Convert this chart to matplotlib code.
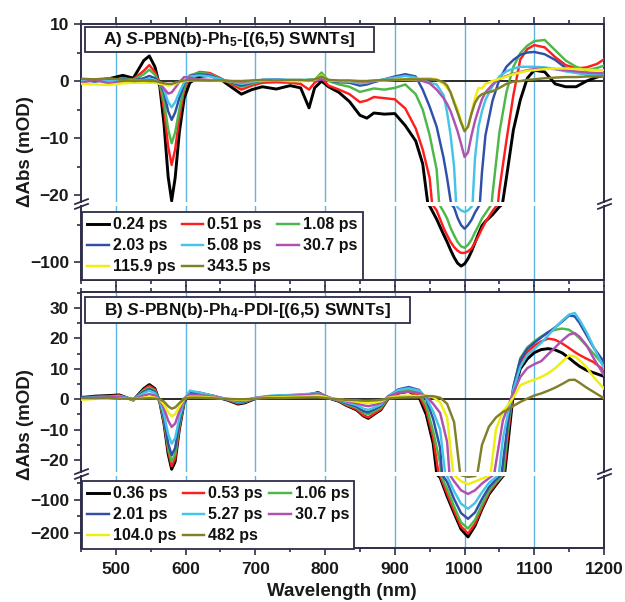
import matplotlib
matplotlib.use("Agg")
import matplotlib.pyplot as plt
from matplotlib.ticker import MultipleLocator, FixedLocator
from matplotlib.patches import Rectangle
from matplotlib.lines import Line2D

plt.rcParams['font.family'] = ['Liberation Sans', 'DejaVu Sans']
plt.rcParams['font.weight'] = 'bold'
plt.rcParams['axes.unicode_minus'] = True
plt.rcParams['mathtext.fontset'] = 'custom'
plt.rcParams['mathtext.rm'] = 'Liberation Sans:bold'
plt.rcParams['mathtext.bf'] = 'Liberation Sans:bold'
plt.rcParams['mathtext.it'] = 'Liberation Sans:italic:bold'
plt.rcParams['mathtext.default'] = 'bf'

# ---------------- data: panel A ----------------
WL_A = [450, 470, 490, 510, 525, 540, 548, 556, 563, 569, 575, 580, 585, 591, 598, 606,
        620, 635, 650, 665, 680, 695,
        710, 730, 750, 765, 777, 785, 795,
        805, 820, 835, 850, 860, 870, 885, 900,
        915, 930, 940, 950, 960,
        970, 975, 980, 985, 990, 995, 1000, 1005, 1010, 1015, 1020, 1025, 1030,
        1040, 1050, 1060, 1070, 1080, 1090, 1100,
        1115, 1130, 1145, 1160, 1175, 1190, 1200]

LABELS_A = ["0.24 ps", "0.51 ps", "1.08 ps", "2.03 ps", "5.08 ps", "30.7 ps", "115.9 ps", "343.5 ps"]

A_024 = [0.3, 0.1, 0.4, 1.0, 0.5, 3.6, 4.4, 2.5, -1.0, -7.5, -16.8, -21.0, -17.0, -9.0, -3.0, -0.3,
         0.8, 1.0, 0.3, -1.0, -2.3, -1.5,
         -1.0, -1.4, -0.8, -1.2, -4.7, -1.2, 0.0,
         -1.0, -2.0, -3.6, -6.0, -6.5, -5.6, -5.8, -5.7,
         -7.8, -10.5, -14.5, -24, -42,
         -63, -73, -84, -94, -102, -106, -103, -96, -86, -74, -62, -51, -45,
         -36, -25, -17, -8.6, -3.3, 0.5, 1.9,
         1.6, -0.5, -1.0, -1.0, 0.0, 0.7, 1.0]
A_051 = [0.2, 0.2, 0.1, 0.5, 0.3, 1.8, 2.8, 1.6, -0.6, -5.0, -11.5, -14.7, -12.0, -6.5, -1.5, 0.8,
         1.6, 1.4, 0.5, -0.5, -1.5, -0.8,
         -0.3, -0.2, -0.3, -0.5, -1.5, -0.3, 0.5,
         -0.8, -1.5, -2.3, -3.7, -3.4, -2.8, -3.0, -3.2,
         -4.8, -8.3, -12.0, -17.0, -30,
         -54, -64, -73, -80, -85, -88, -88, -86, -82, -74, -65, -55, -46,
         -31, -19, -10.5, -2.5, 3.8, 5.6, 6.3,
         5.9, 4.2, 2.8, 2.2, 2.4, 3.0, 3.8]
A_108 = [0.3, 0.1, 0.2, 0.4, 0.2, 1.2, 2.0, 1.1, -0.5, -3.5, -8.5, -10.9, -9.0, -5.0, -1.0, 1.0,
         1.5, 1.2, 0.4, -0.3, -1.0, -0.5,
         0.0, 0.1, 0.0, 0.0, 0.3, 0.2, 1.5,
         0.0, -0.6, -1.0, -1.9, -1.6, -1.3, -1.5, -1.2,
         -0.6, -2.3, -5.0, -9.5, -15.5,
         -32, -41, -54, -64, -73, -79, -81, -77, -70, -60, -51, -41, -34,
         -20, -9, -2, 2.5, 4.9, 6.2, 7.0,
         7.2, 5.4, 3.6, 2.5, 1.9, 2.3, 2.7]
A_203 = [0.2, -0.1, 0.2, 0.3, 0.1, 0.5, 0.9, 0.5, -0.3, -2.0, -5.3, -6.8, -5.5, -3.0, -0.5, 0.9,
         1.2, 1.0, 0.3, -0.2, -0.8, -0.3,
         0.2, 0.3, 0.1, 0.1, 0.1, 0.2, 0.6,
         0.1, -0.2, -0.3, -0.8, -0.6, -0.2, 0.3, 0.8,
         1.2, 0.8, -1.5, -4.5, -8.0,
         -13.5, -17.0, -21.0, -26, -40, -50, -55, -50, -43, -33, -25, -16, -9.5,
         -3.5, 0.3, 2.5, 3.7, 4.6, 5.0, 5.1,
         4.7, 3.7, 2.3, 1.5, 1.2, 1.2, 1.2]
A_508 = [0.1, 0.2, 0.0, 0.2, 0.1, 0.2, 0.4, 0.2, -0.3, -1.5, -3.7, -4.6, -3.7, -2.0, -0.2, 0.8,
         1.0, 0.8, 0.3, -0.1, -0.5, -0.2,
         0.2, 0.3, 0.2, 0.2, 0.2, 0.2, 0.5,
         0.2, 0.0, -0.1, -0.4, -0.3, 0.0, 0.3, 0.6,
         0.9, 0.6, 0.2, -0.3, -0.6,
         -2.5, -5.5, -9.5, -15.0, -26, -30, -32, -30, -25, -13.5, -8.0, -5.3, -3.3,
         -0.9, 0.8, 1.7, 2.2, 2.5, 2.5, 2.5,
         2.4, 2.1, 1.7, 1.4, 1.2, 1.0, 1.0]
A_307 = [-0.3, 0.2, -0.4, -0.2, 0.0, 0.0, 0.2, 0.0, -0.5, -1.3, -2.2, -2.0, -1.2, -0.2, 0.7, 0.6,
         0.3, 0.2, 0.1, 0.0, -0.2, 0.0,
         0.1, 0.2, 0.1, 0.1, 0.1, 0.1, 0.3,
         0.1, 0.0, 0.0, -0.1, -0.1, 0.0, 0.1, 0.2,
         0.2, 0.1, 0.0, -0.4, -1.5,
         -3.0, -4.0, -5.3, -7.0, -8.8, -11.0, -13.3, -12.5, -9.5, -7.0, -5.0, -3.2, -2.0,
         -0.6, 0.4, 0.9, 1.3, 1.6, 1.9, 2.1,
         2.2, 2.1, 1.9, 1.7, 1.5, 1.4, 1.4]
A_1159 = [-0.5, -0.6, -0.7, -0.4, -0.3, -0.3, -0.3, -0.3, -0.5, -0.6, -0.8, -0.7, -0.5, -0.2, 0.0, 0.1,
          0.1, 0.1, 0.0, 0.0, 0.0, 0.0,
          0.1, 0.1, 0.0, 0.0, 0.0, 0.2, 1.0,
          0.1, 0.0, 0.0, 0.0, 0.0, 0.1, 0.1, 0.2,
          0.3, 0.3, 0.5, 0.5, 0.3,
          -0.5, -1.2, -2.0, -3.5, -5.0, -7.0, -8.5, -8.0, -5.5, -3.0, -1.2, -1.3, -0.5,
          0.0, 0.4, 0.8, 1.2, 1.5, 1.8, 1.9,
          2.1, 2.2, 2.2, 2.1, 2.0, 1.9, 1.9]
A_3435 = [0.4, 0.3, 0.5, 0.2, 0.0, 0.1, 0.0, 0.0, -0.2, -0.4, -0.5, -0.5, -0.3, -0.1, 0.1, 0.2,
          0.2, 0.1, 0.1, 0.0, 0.0, 0.1,
          0.2, 0.1, 0.2, 0.2, 0.1, 0.3, 0.8,
          0.2, 0.1, 0.1, 0.0, 0.0, 0.1, 0.2, 0.2,
          0.3, 0.3, 0.3, 0.3, 0.2,
          -0.2, -0.8, -2.0, -3.8, -5.5, -7.3, -8.8, -8.0, -5.7, -3.8, -2.8, -2.3, -2.1,
          -1.8, -1.2, -0.5, -0.1, 0.0, 0.2, 0.3,
          0.5, 0.6, 0.7, 0.7, 0.8, 0.8, 0.8]

# ---------------- data: panel B ----------------
WL_B = [450, 470, 490, 505, 525, 540, 548, 556, 563, 569, 575, 580, 585, 591, 598, 606,
        620, 640, 660, 675, 685, 700,
        720, 740, 760, 780, 790, 800,
        810, 820, 830, 845, 855, 862, 870, 880, 890,
        905, 920, 935, 945, 955, 965, 975, 985, 995, 1005, 1015, 1025, 1035, 1045, 1055,
        1062, 1070, 1080, 1090, 1100, 1110, 1120, 1130, 1140, 1150, 1158, 1165, 1175, 1185, 1200]

LABELS_B = ["0.36 ps", "0.53 ps", "1.06 ps", "2.01 ps", "5.27 ps", "30.7 ps", "104.0 ps", "482 ps"]

B_036 = [0.5, 1.0, 1.2, 1.4, -0.3, 3.5, 4.8, 3.5, -1.0, -8.0, -18.0, -23.0, -20.5, -10.0, -1.0, 2.3,
         2.0, 1.0, -0.3, -1.6, -1.2, 0.2,
         0.8, 1.0, 1.2, 1.6, 2.2, 1.0,
         0.0, -0.7, -2.0, -3.5, -5.5, -6.3, -5.0, -3.5, 0.0,
         2.0, 2.6, 0.5, -5.0, -14.5, -34, -90, -140, -188, -211, -178, -128, -84, -56, -30,
         -15, 2.0, 10.0, 13.2, 15.3, 16.3, 16.6, 16.2, 15.2, 13.5, 12.0, 10.8, 9.5, 8.7, 7.5]
B_053 = [0.8, 0.6, 1.0, 1.2, -0.2, 3.2, 4.4, 3.2, -0.9, -7.5, -17.0, -22.0, -19.5, -9.5, -0.8, 2.4,
         2.1, 1.1, -0.2, -1.4, -1.0, 0.3,
         0.9, 1.1, 1.3, 1.7, 2.1, 1.0,
         0.0, -0.6, -1.9, -3.3, -5.3, -6.0, -4.8, -3.3, 0.1,
         2.0, 2.5, 1.2, -3.5, -12.5, -28, -82, -133, -180, -201, -172, -124, -80, -52, -28,
         -12, 3.0, 12.0, 15.5, 17.5, 19.0, 19.9, 19.5, 18.3, 16.8, 15.5, 14.5, 13.3, 12.2, 9.5]
B_106 = [0.5, 0.8, 0.9, 1.1, -0.2, 2.8, 3.8, 2.8, -0.8, -7.0, -16.0, -20.5, -18.0, -8.8, -0.6, 2.3,
         2.0, 1.0, -0.1, -1.2, -0.9, 0.3,
         0.9, 1.1, 1.3, 1.6, 2.0, 1.0,
         0.1, -0.5, -1.6, -2.8, -4.5, -5.0, -4.0, -2.8, 0.3,
         2.5, 3.2, 2.0, -2.0, -10.5, -21, -68, -120, -168, -186, -160, -115, -74, -48, -25,
         -10, 4.0, 13.5, 17.0, 19.0, 20.6, 22.0, 22.8, 23.2, 22.8, 21.5, 20.0, 17.5, 15.0, 11.0]
B_201 = [0.6, 0.7, 1.0, 1.0, -0.1, 2.4, 3.3, 2.4, -0.6, -6.2, -14.5, -18.4, -16.0, -7.8, -0.4, 2.2,
         2.0, 1.0, -0.1, -1.0, -0.8, 0.4,
         1.0, 1.2, 1.4, 1.7, 2.1, 1.1,
         0.2, -0.4, -1.3, -2.4, -3.9, -4.3, -3.4, -2.2, 0.8,
         3.2, 4.0, 3.0, 0.0, -6.5, -16, -47, -98, -140, -157, -138, -98, -63, -40, -21,
         -8, 4.0, 13.0, 16.5, 18.5, 20.3, 22.0, 23.6, 25.5, 27.5, 27.2, 25.0, 21.0, 17.0, 12.2]
B_527 = [0.3, 0.6, 0.8, 1.0, 0.0, 2.0, 2.8, 2.0, -0.5, -5.0, -11.5, -14.6, -12.8, -6.2, 0.0, 2.8,
         2.2, 1.1, 0.0, -0.8, -0.6, 0.5,
         1.1, 1.3, 1.5, 1.8, 2.0, 1.1,
         0.2, -0.3, -1.0, -1.9, -3.1, -3.5, -2.8, -1.8, 1.0,
         3.0, 3.6, 2.8, 0.5, -4.0, -10, -30, -75, -112, -127, -110, -78, -50, -33, -13,
         -5, 3.0, 10.6, 14.5, 16.5, 18.5, 21.0, 23.5, 25.8, 27.8, 28.3, 26.0, 22.0, 17.2, 10.1]
B_307 = [0.2, 0.5, 0.6, 0.7, 0.0, 1.2, 1.7, 1.2, -0.2, -3.0, -7.0, -9.1, -8.0, -4.0, 0.3, 1.5,
         1.3, 0.8, 0.1, -0.5, -0.4, 0.4,
         0.9, 1.0, 1.2, 1.5, 1.8, 1.0,
         0.2, -0.2, -0.7, -1.3, -2.0, -2.3, -1.9, -1.2, 0.8,
         2.2, 2.5, 2.0, 1.0, -1.5, -4.5, -14, -45, -72, -83, -72, -52, -36, -21, -7,
         -2.5, 2.0, 7.3, 10.2, 11.5, 12.5, 14.8, 17.0, 19.3, 21.2, 21.7, 20.5, 17.7, 13.5, 7.9]
B_1040 = [-0.2, 0.1, 0.2, 0.3, 0.0, 0.5, 0.8, 0.5, -0.1, -1.8, -4.3, -5.6, -4.9, -2.5, 0.2, 0.8,
          0.8, 0.5, 0.1, -0.2, -0.2, 0.3,
          0.6, 0.7, 0.8, 1.0, 1.2, 0.7,
          0.2, 0.0, -0.4, -0.8, -1.2, -1.3, -1.1, -0.7, 0.4,
          1.0, 1.2, 1.0, 1.2, 0.6, -1.0, -6.0, -27, -45, -54, -46, -37, -29, -10, -4,
          -2.0, 0.5, 4.6, 5.6, 6.4, 7.3, 8.5, 10.2, 12.3, 14.4, 14.0, 12.8, 10.5, 7.3, 3.5]
B_482 = [0.4, 0.3, 0.5, 0.2, 0.1, 0.2, 0.3, 0.2, 0.0, -0.8, -2.3, -3.1, -2.7, -1.3, 0.2, 0.5,
         0.5, 0.3, 0.1, 0.0, 0.0, 0.2,
         0.4, 0.4, 0.5, 0.6, 0.6, 0.4,
         0.1, 0.0, -0.2, -0.3, -0.5, -0.5, -0.4, -0.2, 0.2,
         0.5, 0.6, 0.6, 1.0, 1.0, 0.5, -1.5, -7.5, -27, -32, -29.5, -15, -9, -6, -4.2,
         -3.5, -2.2, -0.9, 0.2, 1.2, 1.9, 2.8, 3.8, 5.0, 6.3, 6.4, 5.4, 3.8, 2.4, 0.3]

COLORS = ['#000000', '#ff1e1e', '#4cb848', '#2f4fa8', '#45c3e8', '#b050b0', '#eeee10', '#80802a']
VLINES = [500, 600, 700, 800, 900, 1000, 1100]

SPINE = '#2d2d48'
VCOL = '#5db3e2'

W, H = 625, 602
fig = plt.figure(figsize=(W / 100, H / 100), dpi=100)


def ax_at(x0, y0, x1, y1):
    return fig.add_axes([x0 / W, 1 - y1 / H, (x1 - x0) / W, (y1 - y0) / H])


def style_axes(ax, upper, show_xlabels):
    ax.set_xlim(450, 1200)
    ax.xaxis.set_major_locator(MultipleLocator(100))
    ax.xaxis.set_minor_locator(MultipleLocator(50))
    for s in ax.spines.values():
        s.set_color(SPINE)
        s.set_linewidth(1.4)
    if upper:
        ax.spines['bottom'].set_visible(False)
        ax.tick_params(axis='x', which='both', top=True, bottom=False,
                       labeltop=False, labelbottom=False)
    else:
        ax.spines['top'].set_visible(False)
        ax.tick_params(axis='x', which='both', top=False, bottom=True,
                       labeltop=False, labelbottom=show_xlabels)
    ax.tick_params(axis='y', which='both', left=True, right=False)
    ax.tick_params(which='both', direction='out', color=SPINE, width=1.2,
                   labelsize=12.5, labelcolor='#1a1a1a')
    ax.tick_params(which='major', length=5)
    ax.tick_params(which='minor', length=3)
    ax.tick_params(axis='x', which='major', pad=5)
    ax.set_facecolor('white')


def draw_panel(ax_up, ax_lo, wl, series, labels, lim_up, lim_lo):
    lines = []
    for ax in (ax_up, ax_lo):
        for v in VLINES:
            ax.axvline(v, color=VCOL, lw=1.0, zorder=1)
        lines = []
        for i, (vals, col, lab) in enumerate(zip(series, COLORS, labels)):
            ln, = ax.plot(wl, vals, color=col, lw=2.1 if i == 0 else 1.75,
                          label=lab, zorder=3, solid_joinstyle='round')
            lines.append(ln)
    ax_up.axhline(0, color='#1a1a1a', lw=1.3, zorder=2)
    ax_up.set_ylim(*lim_up)
    ax_lo.set_ylim(*lim_lo)
    return lines


def break_marks(x, y):
    for d in (-2.4, 2.4):
        fig.add_artist(Line2D([(x - 6.5) / W, (x + 6.5) / W],
                              [1 - (y + 2.5 + d) / H, 1 - (y - 2.5 + d) / H],
                              color=SPINE, lw=1.3, transform=fig.transFigure))


def title_box(x0, y0, x1, y1, text):
    fig.add_artist(Rectangle((x0 / W, 1 - y1 / H), (x1 - x0) / W, (y1 - y0) / H,
                             transform=fig.transFigure, facecolor='white',
                             edgecolor=SPINE, lw=1.3, zorder=5))
    fig.text((x0 + x1) / 2 / W, 1 - (y0 + y1) / 2 / H, text, ha='center', va='center',
             fontsize=12.4, fontweight='bold', color='#111111', zorder=6)


LEG_ORDER = [0, 3, 6, 1, 4, 7, 2, 5]


def add_legend(ax, lines, labels, x0, y0):
    h = [lines[i] for i in LEG_ORDER]
    l = [labels[i] for i in LEG_ORDER]
    leg = ax.legend(h, l, ncol=3, loc='upper left',
                    bbox_to_anchor=(x0 / W, 1 - y0 / H), bbox_transform=fig.transFigure,
                    borderaxespad=0, prop={'family': 'Liberation Sans', 'weight': 'bold', 'size': 11.5},
                    handlelength=1.35, handletextpad=0.25, columnspacing=0.4,
                    labelspacing=0.38, borderpad=0.33, frameon=True, fancybox=False,
                    framealpha=1, edgecolor=SPINE)
    leg.get_frame().set_linewidth(1.3)
    leg.set_zorder(10)
    for t in leg.get_texts():
        t.set_color('#111111')


# Panel A
axA1 = ax_at(81, 24, 604, 202)
axA2 = ax_at(81, 206, 604, 280)
linesA = draw_panel(axA1, axA2, WL_A, [A_024, A_051, A_108, A_203, A_508, A_307, A_1159, A_3435],
                    LABELS_A, (-21.2, 10), (-125, -24))
style_axes(axA1, True, False)
style_axes(axA2, False, False)
axA1.yaxis.set_major_locator(MultipleLocator(10))
axA1.yaxis.set_minor_locator(MultipleLocator(5))
axA2.yaxis.set_major_locator(FixedLocator([-100]))
axA2.yaxis.set_minor_locator(FixedLocator([-50]))
add_legend(axA2, linesA, LABELS_A, 82, 212)

# Panel B
axB1 = ax_at(81, 292, 604, 472)
axB2 = ax_at(81, 476, 604, 548)
linesB = draw_panel(axB1, axB2, WL_B, [B_036, B_053, B_106, B_201, B_527, B_307, B_1040, B_482],
                    LABELS_B, (-23.9, 35.2), (-244, -29.4))
style_axes(axB1, True, False)
style_axes(axB2, False, True)
axB1.yaxis.set_major_locator(MultipleLocator(10))
axB1.yaxis.set_minor_locator(MultipleLocator(5))
axB2.yaxis.set_major_locator(FixedLocator([-100, -200]))
axB2.yaxis.set_minor_locator(FixedLocator([-50, -150]))
add_legend(axB2, linesB, LABELS_B, 82, 481)

# break marks
for yb in (204, 474):
    break_marks(81.5, yb)
    break_marks(604.5, yb)

title_box(85, 27, 374, 52, r"A) $\mathit{S}$-PBN(b)-Ph$_{5}$-[(6,5) SWNTs]")
title_box(85, 297, 410, 323, r"B) $\mathit{S}$-PBN(b)-Ph$_{4}$-PDI-[(6,5) SWNTs]")

fig.text(25 / W, 1 - 152 / H, "\u0394Abs (mOD)", rotation=90, ha='center', va='center',
         fontsize=13.5, fontweight='bold', color='#1a1a1a')
fig.text(25 / W, 1 - 425 / H, "\u0394Abs (mOD)", rotation=90, ha='center', va='center',
         fontsize=13.5, fontweight='bold', color='#1a1a1a')
fig.text(342 / W, 1 - 591 / H, "Wavelength (nm)", ha='center', va='center',
         fontsize=13.5, fontweight='bold', color='#1a1a1a')

fig.savefig("out.png", dpi=100)
